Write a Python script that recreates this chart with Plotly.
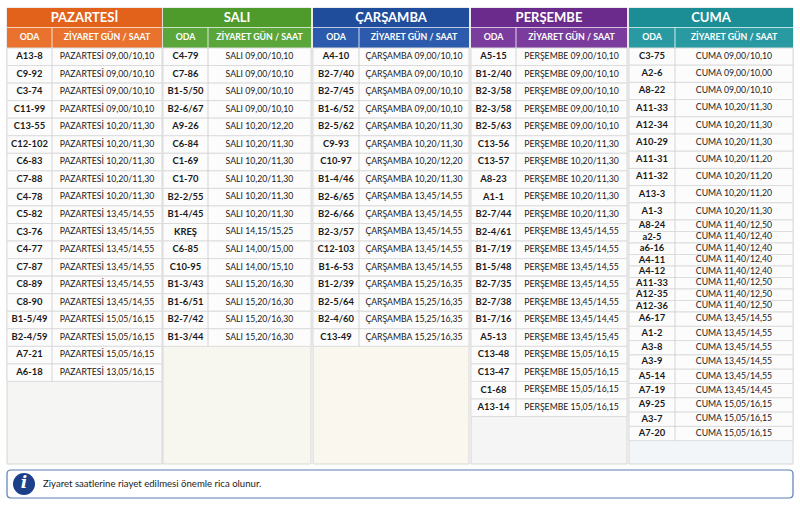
import plotly.graph_objects as go

# ---- data -------------------------------------------------------------
days = ["PAZARTESİ", "SALI", "ÇARŞAMBA", "PERŞEMBE", "CUMA"]
col_headers = ["ODA", "ZİYARET GÜN / SAAT"]
note_text = "Ziyaret saatlerine riayet edilmesi önemle rica olunur."

pazartesi_oda = ["A13-8", "C9-92", "C3-74", "C11-99", "C13-55", "C12-102", "C6-83",
                 "C7-88", "C4-78", "C5-82", "C3-76", "C4-77", "C7-87", "C8-89",
                 "C8-90", "B1-5/49", "B2-4/59", "A7-21", "A6-18"]
pazartesi_saat = ["09,00/10,10"] * 4 + ["10,20/11,30"] * 5 + ["13,45/14,55"] * 6 + \
                 ["15,05/16,15"] * 3 + ["13,05/16,15"]

sali_oda = ["C4-79", "C7-86", "B1-5/50", "B2-6/67", "A9-26", "C6-84", "C1-69", "C1-70",
            "B2-2/55", "B1-4/45", "KREŞ", "C6-85", "C10-95", "B1-3/43", "B1-6/51",
            "B2-7/42", "B1-3/44"]
sali_saat = ["09,00/10,10"] * 4 + ["10,20/12,20"] + ["10,20/11,30"] * 5 + \
            ["14,15/15,25", "14,00/15,00", "14,00/15,10"] + ["15,20/16,30"] * 4

carsamba_oda = ["A4-10", "B2-7/40", "B2-7/45", "B1-6/52", "B2-5/62", "C9-93", "C10-97",
                "B1-4/46", "B2-6/65", "B2-6/66", "B2-3/57", "C12-103", "B1-6-53",
                "B1-2/39", "B2-5/64", "B2-4/60", "C13-49"]
carsamba_saat = ["09,00/10,10"] * 4 + ["10,20/11,30"] * 2 + ["10,20/12,20", "10,20/11,30"] + \
                ["13,45/14,55"] * 5 + ["15,25/16,35"] * 4

persembe_oda = ["A5-15", "B1-2/40", "B2-3/58", "B2-3/58", "B2-5/63", "C13-56", "C13-57",
                "A8-23", "A1-1", "B2-7/44", "B2-4/61", "B1-7/19", "B1-5/48", "B2-7/35",
                "B2-7/38", "B1-7/16", "A5-13", "C13-48", "C13-47", "C1-68", "A13-14"]
persembe_saat = ["09,00/10,10"] * 5 + ["10,20/11,30"] * 5 + ["13,45/14,55"] * 5 + \
                ["13,45/14,45", "13,45/15,45"] + ["15,05/16,15"] * 4

cuma_oda = ["C3-75", "A2-6", "A8-22", "A11-33", "A12-34", "A10-29", "A11-31", "A11-32",
            "A13-3", "A1-3", "A8-24", "a2-5", "a6-16", "A4-11", "A4-12", "A11-33",
            "A12-35", "A12-36", "A6-17", "A1-2", "A3-8", "A3-9", "A5-14", "A7-19",
            "A9-25", "A3-7", "A7-20"]
cuma_saat = ["09,00/10,10", "09,00/10,00", "09,00/10,10"] + ["10,20/11,30"] * 3 + \
            ["10,20/11,20"] * 3 + ["10,20/11,30", "11,40/12,50"] + ["11,40/12,40"] * 4 + \
            ["11,40/12,50"] * 3 + ["13,45/14,55"] * 5 + ["13,45/14,45"] + ["15,05/16,15"] * 3

oda_lists = [pazartesi_oda, sali_oda, carsamba_oda, persembe_oda, cuma_oda]
saat_lists = [pazartesi_saat, sali_saat, carsamba_saat, persembe_saat, cuma_saat]

# ---- layout / style ---------------------------------------------------
W, H = 800, 506
panel_x = [(7, 162, 52), (163, 311, 208), (313, 469, 359), (471, 627, 516), (629, 793, 675)]
top_colors = ["#E2611B", "#4E9A2B", "#1F4C9B", "#6A2B8D", "#1B8D95"]
sub_colors = ["#E8722E", "#5BA63A", "#2C5BAD", "#7A3C9D", "#2A9AA2"]
body_colors = ["#F5F5F3", "#F7F7F0", "#FAF7EF", "#F6F5F6", "#F2F6F8"]
TITLE_Y0, TITLE_Y1, SUB_Y1, PANEL_BOTTOM = 8, 27.5, 48, 464
FONT = "Lato"


def row_height(day_idx, slot):
    if day_idx == 4:
        if slot.startswith("11,40"):
            return 11.5
        if slot.startswith(("13", "15")):
            return 14.3
        return 17.2
    return 17.55


def rounded_rect(x0, y0, x1, y1, r):
    return (f"M{x0+r},{y0} L{x1-r},{y0} Q{x1},{y0} {x1},{y0+r} L{x1},{y1-r} "
            f"Q{x1},{y1} {x1-r},{y1} L{x0+r},{y1} Q{x0},{y1} {x0},{y1-r} "
            f"L{x0},{y0+r} Q{x0},{y0} {x0+r},{y0} Z")


fig = go.Figure()
shapes = []


def add_shape(**kw):
    kw["layer"] = "below"
    shapes.append(kw)


for d, day in enumerate(days):
    x0, x1, xd = panel_x[d]
    add_shape(type="rect", x0=x0, x1=x1, y0=TITLE_Y0, y1=PANEL_BOTTOM,
              fillcolor=body_colors[d], line=dict(color="#D6D6D6", width=1))
    add_shape(type="rect", x0=x0, x1=x1, y0=TITLE_Y0, y1=TITLE_Y1,
              fillcolor=top_colors[d], line=dict(width=0))
    add_shape(type="rect", x0=x0, x1=x1, y0=TITLE_Y1, y1=SUB_Y1,
              fillcolor=sub_colors[d], line=dict(width=0))
    add_shape(type="line", x0=x0, x1=x1, y0=TITLE_Y1, y1=TITLE_Y1,
              line=dict(color="rgba(255,255,255,0.6)", width=1))
    add_shape(type="line", x0=xd, x1=xd, y0=TITLE_Y1, y1=SUB_Y1,
              line=dict(color="rgba(255,255,255,0.8)", width=1))

    # rows
    ys, y = [], SUB_Y1
    for slot in saat_lists[d]:
        h = row_height(d, slot)
        add_shape(type="rect", x0=x0, x1=x1, y0=y, y1=y + h,
                  fillcolor="#FCFCFC", line=dict(color="#DCDCDC", width=1))
        ys.append(y + h / 2)
        y += h
    add_shape(type="line", x0=xd, x1=xd, y0=SUB_Y1, y1=y,
              line=dict(color="#D4D4D4", width=1))

    # header texts
    fig.add_trace(go.Scatter(
        x=[(x0 + x1) / 2], y=[(TITLE_Y0 + TITLE_Y1) / 2 + 0.5], text=[day], mode="text",
        textfont=dict(family=FONT, size=13, color="white", weight="bold"), hoverinfo="skip"))
    fig.add_trace(go.Scatter(
        x=[(x0 + xd) / 2, (xd + x1) / 2], y=[(TITLE_Y1 + SUB_Y1) / 2] * 2, text=col_headers,
        mode="text", textfont=dict(family=FONT, size=8.8, color="white", weight="bold"),
        hoverinfo="skip"))

    # cells
    fig.add_trace(go.Scatter(
        x=[(x0 + xd) / 2] * len(oda_lists[d]), y=ys, text=oda_lists[d], mode="text",
        textfont=dict(family=FONT, size=9.4, color="#1A1A1A", weight="bold"), hoverinfo="skip"))
    fig.add_trace(go.Scatter(
        x=[(xd + x1) / 2] * len(saat_lists[d]), y=ys,
        text=[f"{day} {s}" for s in saat_lists[d]], mode="text",
        textfont=dict(family=FONT, size=8.7, color="#1A1A1A"), hoverinfo="skip"))

# info box
add_shape(type="path", path=rounded_rect(7, 470, 793, 498, 4),
          fillcolor="white", line=dict(color="#5B7FB3", width=1.2))
add_shape(type="circle", x0=13, x1=35, y0=473, y1=495,
          fillcolor="#1B3F88", line=dict(width=0))
fig.add_trace(go.Scatter(
    x=[24], y=[484], text=["<i>i</i>"], mode="text",
    textfont=dict(family="DejaVu Serif", size=17, color="white", weight="bold"),
    hoverinfo="skip"))
fig.add_trace(go.Scatter(
    x=[43], y=[484.5], text=[note_text], mode="text", textposition="middle right",
    textfont=dict(family=FONT, size=9.6, color="#222222"), hoverinfo="skip"))

fig.update_layout(
    width=W, height=H, margin=dict(l=0, r=0, t=0, b=0),
    paper_bgcolor="white", plot_bgcolor="white", showlegend=False,
    shapes=shapes,
    xaxis=dict(range=[0, W], visible=False, fixedrange=True),
    yaxis=dict(range=[H, 0], visible=False, fixedrange=True),
)

fig.write_html("out.html", config={"displayModeBar": False},
               post_script="document.body.style.margin='0';")
